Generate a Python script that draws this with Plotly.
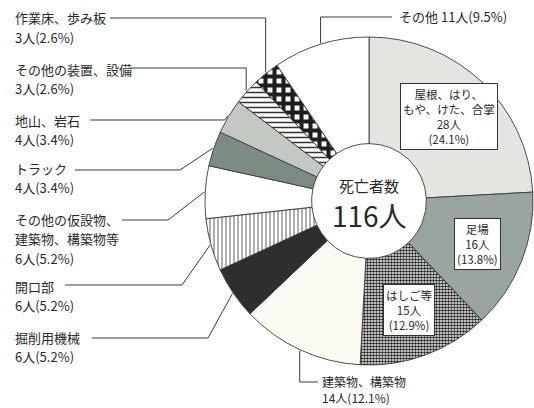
import math
import plotly.graph_objects as go

# ---------------- data ----------------
categories = ["屋根、はり、もや、けた、合掌", "足場", "はしご等", "建築物、構築物", "掘削用機械",
              "開口部", "その他の仮設物、建築物、構築物等", "トラック", "地山、岩石",
              "その他の装置、設備", "作業床、歩み板", "その他"]
values = [28, 16, 15, 14, 6, 6, 6, 4, 4, 3, 3, 11]
percents = [24.1, 13.8, 12.9, 12.1, 5.2, 5.2, 5.2, 3.4, 3.4, 2.6, 2.6, 9.5]
total_label = "死亡者数"
total_value = 116

# ---------------- styles ----------------
W, H = 534, 408
CX, CY, R = 369, 201, 164
HOLE = 0.35
FONT = "Noto Sans CJK JP, Noto Sans, sans-serif"
TXT = "#2a2a2a"

slice_bg = ["#e4e4e1", "#9ba59f", "#ffffff", "#fbfaf3", "#2e2e2e", "#ffffff",
            "#ffffff", "#7d8c83", "#c3c8c3", "#ffffff", "#ffffff", "#ffffff"]
pat_shape = ["", "", ".", "", "", "|", "", "", "", "-", "+", ""]
pat_fg = ["#000", "#000", "#1e1e1e", "#000", "#000", "#333", "#000", "#000", "#000", "#333", "#1e1e1e", "#000"]
pat_size = [8, 8, 3, 8, 8, 4, 8, 8, 8, 5, 9, 8]
pat_sol = [0.3, 0.3, 0.55, 0.3, 0.3, 0.2, 0.3, 0.3, 0.3, 0.3, 0.7, 0.3]

def px2paper(x, y):
    return x / W, 1 - y / H

total = sum(values)

def slice_point(i, r):
    start = sum(values[:i]) / total * 360
    mid = math.radians(start + values[i] / total * 180)
    return CX + r * math.sin(mid), CY - r * math.cos(mid)

fig = go.Figure()
fig.add_trace(go.Pie(
    labels=categories, values=values, sort=False, direction="clockwise", rotation=0,
    hole=HOLE, textinfo="none", hoverinfo="label+value+percent", showlegend=False,
    domain=dict(x=[(CX - R) / W, (CX + R) / W], y=[1 - (CY + R) / H, 1 - (CY - R) / H]),
    marker=dict(
        colors=slice_bg,
        line=dict(color="#3a3a3a", width=0.9),
        pattern=dict(shape=pat_shape, fgcolor=pat_fg, bgcolor=slice_bg,
                     size=pat_size, solidity=pat_sol, fillmode="replace"),
    ),
))

annotations = []
shapes = []

# inside boxed labels (first three slices)
inside_lines = [["屋根、はり、", "もや、けた、合掌"], ["足場"], ["はしご等"]]
for i, name_lines in enumerate(inside_lines):
    x, y = slice_point(i, 0.71 * R)
    px_, py_ = px2paper(x, y)
    text = "<br>".join(name_lines + [f"{values[i]}人", f"({percents[i]}%)"])
    annotations.append(dict(x=px_, y=py_, xref="paper", yref="paper", text=text,
                            xanchor="center", yanchor="middle",
                            showarrow=False, font=dict(family=FONT, size=11.5, color=TXT),
                            bgcolor="white", bordercolor="#333", borderwidth=1, borderpad=2,
                            align="center"))

# outside labels with leader lines:
# (index, route points after anchor, label x, label first y, line step, font size, name lines)
outside = [
    (10, lambda a: [(a[0], 18), (110, 18)], 14, 18, 19.5, 13, ["作業床、歩み板"]),
    (9, lambda a: [(a[0], 68), (130, 68)], 14, 69, 19.5, 13, ["その他の装置、設備"]),
    (8, lambda a: [(a[0] - 3, 120), (90, 120)], 14, 120, 19.5, 13, ["地山、岩石"]),
    (7, lambda a: [(180, 170), (75, 170)], 14, 168, 19.5, 13, ["トラック"]),
    (6, lambda a: [(168, 220), (122, 220)], 14, 219, 19.5, 13, ["その他の仮設物、", "建築物、構築物等"]),
    (5, lambda a: [(182, 285), (65, 285)], 14, 286, 19.5, 13, ["開口部"]),
    (4, lambda a: [(208, 338), (92, 338)], 14, 337, 19.5, 13, ["掘削用機械"]),
    (3, lambda a: [(a[0], 382), (318, 382)], 321, 381, 16.5, 12, ["建築物、構築物"]),
]
for idx, route, lx, ly, step, fs, name_lines in outside:
    a = slice_point(idx, R + 1)
    pts = [a] + route(a)
    path = "M " + " L ".join(f"{px2paper(x, y)[0]:.5f},{px2paper(x, y)[1]:.5f}" for x, y in pts)
    shapes.append(dict(type="path", xref="paper", yref="paper", path=path,
                       line=dict(color="#3a3a3a", width=1)))
    lines = name_lines + [f"{values[idx]}人({percents[idx]}%)"]
    for k, t in enumerate(lines):
        x, y = px2paper(lx, ly + step * k)
        annotations.append(dict(x=x, y=y, xref="paper", yref="paper", text=t, showarrow=False,
                                xanchor="left", yanchor="middle", borderpad=0,
                                font=dict(family=FONT, size=fs, color=TXT)))

# その他 label at top
a = slice_point(11, R + 1)
pts = [a, (a[0], 17), (392, 17)]
path = "M " + " L ".join(f"{px2paper(x, y)[0]:.5f},{px2paper(x, y)[1]:.5f}" for x, y in pts)
shapes.append(dict(type="path", xref="paper", yref="paper", path=path,
                   line=dict(color="#3a3a3a", width=1)))
x, y = px2paper(397, 17)
annotations.append(dict(x=x, y=y, xref="paper", yref="paper",
                        text=f"{categories[11]} {values[11]}人({percents[11]}%)", showarrow=False,
                        xanchor="left", yanchor="middle", font=dict(family=FONT, size=13, color=TXT)))

# center text
x, y = px2paper(CX, 186)
annotations.append(dict(x=x, y=y, xref="paper", yref="paper", text=total_label, showarrow=False,
                        xanchor="center", yanchor="middle", borderpad=0,
                        font=dict(family=FONT, size=15, color=TXT)))
x, y = px2paper(CX, 215)
annotations.append(dict(x=x, y=y, xref="paper", yref="paper", text=f"{total_value}人", showarrow=False,
                        xanchor="center", yanchor="middle", borderpad=0,
                        font=dict(family=FONT, size=28, color=TXT)))

fig.update_layout(width=W, height=H, margin=dict(l=0, r=0, t=0, b=0),
                  paper_bgcolor="white", plot_bgcolor="white",
                  annotations=annotations, shapes=shapes)
fig.write_html("out.html", config={"displayModeBar": False},
               post_script="document.body.style.margin='0';document.body.style.overflow='hidden';")
